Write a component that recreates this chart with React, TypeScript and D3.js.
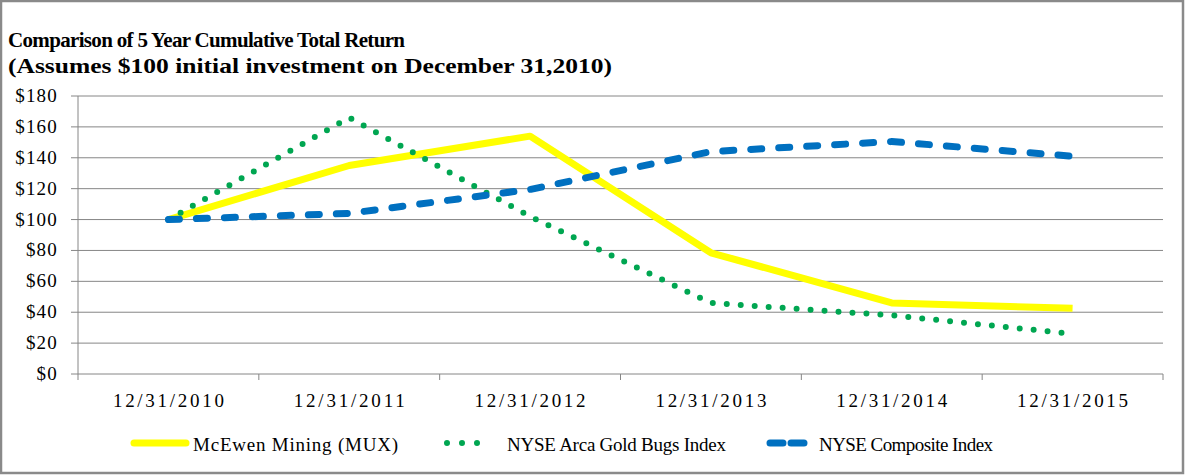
import React, { useEffect, useRef } from "react";
import * as d3 from "d3";

// categories and series
const years = ["12/31/2010", "12/31/2011", "12/31/2012", "12/31/2013", "12/31/2014", "12/31/2015"];
const mcewen = [100, 135, 154, 78.5, 46, 42.5];
const goldBugs = [100, 166, 102, 46, 38, 26];
const nyseComposite = [100, 104, 119.5, 144, 150.5, 141];
const yTicks = [0, 20, 40, 60, 80, 100, 120, 140, 160, 180];

const titleLines = [
  "Comparison of 5 Year Cumulative Total Return",
  "(Assumes $100 initial investment on December 31,2010)",
];

interface Series {
  name: string;
  values: number[];
  color: string;
  width: number;
  dash: string | null;
}

const series: Series[] = [
  { name: "McEwen Mining (MUX)", values: mcewen, color: "#FFFF00", width: 7, dash: null },
  { name: "NYSE Arca Gold Bugs Index", values: goldBugs, color: "#00A651", width: 6, dash: "0 14" },
  { name: "NYSE Composite Index", values: nyseComposite, color: "#0070C0", width: 7, dash: "11 17" },
];

const W = 1185;
const H = 476;
const FONT = "'Liberation Serif', 'Times New Roman', serif";

function App() {
  const svgRef = useRef<SVGSVGElement>(null);

  useEffect(() => {
    if (!svgRef.current) return;
    const svg = d3.select(svgRef.current);
    svg.selectAll("*").remove();

    const plot = { left: 78, right: 1163, top: 96, bottom: 374 };

    const x = d3.scaleBand<string>().domain(years).range([plot.left, plot.right]).padding(0);
    const y = d3.scaleLinear().domain([0, 180]).range([plot.bottom, plot.top]);
    const cx = (d: string) => (x(d) as number) + x.bandwidth() / 2;

    // background + frame
    svg.append("rect").attr("width", W).attr("height", H).attr("fill", "white");
    svg
      .append("rect")
      .attr("x", 1)
      .attr("y", 1)
      .attr("width", W - 3)
      .attr("height", H - 4)
      .attr("fill", "none")
      .attr("stroke", "#8a8a8a")
      .attr("stroke-width", 2.5);

    // title (second line is wider in the original font, so stretch glyphs there)
    const title = svg.append("g").attr("font-family", FONT).attr("font-weight", "bold").attr("font-size", 21);
    const titleLen = [397, 604];
    const titleAdjust = ["spacing", "spacingAndGlyphs"];
    titleLines.forEach((t, i) => {
      title
        .append("text")
        .attr("x", 8)
        .attr("y", 47 + i * 26)
        .attr("textLength", titleLen[i])
        .attr("lengthAdjust", titleAdjust[i])
        .text(t);
    });

    // gridlines
    svg
      .append("g")
      .selectAll("line")
      .data(yTicks.filter((d) => d > 0))
      .enter()
      .append("line")
      .attr("x1", plot.left)
      .attr("x2", plot.right)
      .attr("y1", (d) => y(d))
      .attr("y2", (d) => y(d))
      .attr("stroke", "#868686")
      .attr("stroke-width", 1);

    // y axis
    const yAxis = svg.append("g").attr("transform", `translate(${plot.left},0)`);
    yAxis
      .append("line")
      .attr("y1", plot.top)
      .attr("y2", plot.bottom)
      .attr("stroke", "#868686");
    yTicks.forEach((t) => {
      yAxis
        .append("line")
        .attr("x1", -7)
        .attr("x2", 0)
        .attr("y1", y(t))
        .attr("y2", y(t))
        .attr("stroke", "#868686");
      yAxis
        .append("text")
        .attr("x", -20)
        .attr("y", y(t) + 6)
        .attr("text-anchor", "end")
        .attr("font-family", FONT)
        .attr("font-size", 19)
        .attr("letter-spacing", 1.2)
        .text(`$${t}`);
    });

    // x axis
    const xAxis = svg.append("g");
    xAxis
      .append("line")
      .attr("x1", plot.left)
      .attr("x2", plot.right)
      .attr("y1", plot.bottom)
      .attr("y2", plot.bottom)
      .attr("stroke", "#868686");
    const bounds = years.map((d) => x(d) as number).concat([plot.right]);
    bounds.forEach((b) => {
      xAxis
        .append("line")
        .attr("x1", b)
        .attr("x2", b)
        .attr("y1", plot.bottom)
        .attr("y2", plot.bottom + 6)
        .attr("stroke", "#868686");
    });
    years.forEach((d) => {
      xAxis
        .append("text")
        .attr("x", cx(d))
        .attr("y", 407)
        .attr("text-anchor", "middle")
        .attr("font-family", FONT)
        .attr("font-size", 19)
        .attr("textLength", 111)
        .attr("lengthAdjust", "spacing")
        .text(d);
    });

    // lines
    series.forEach((s) => {
      const line = d3
        .line<number>()
        .x((_, i) => cx(years[i]))
        .y((v) => y(v))
        .curve(d3.curveLinear);
      svg
        .append("path")
        .datum(s.values)
        .attr("d", line)
        .attr("fill", "none")
        .attr("stroke", s.color)
        .attr("stroke-width", s.width)
        .attr("stroke-linecap", s.dash ? "round" : "butt")
        .attr("stroke-linejoin", "round")
        .attr("stroke-dasharray", s.dash ?? null);
    });

    // legend
    const legendItems = [
      { x1: 134, x2: 186, tx: 193, tl: 205 },
      { x1: 447, x2: 492, tx: 507, tl: 219 },
      { x1: 770, x2: 805, tx: 819, tl: 174 },
    ];
    const legend = svg.append("g");
    series.forEach((s, i) => {
      const li = legendItems[i];
      legend
        .append("line")
        .attr("x1", li.x1)
        .attr("x2", li.x2)
        .attr("y1", 443)
        .attr("y2", 443)
        .attr("stroke", s.color)
        .attr("stroke-width", s.width)
        .attr("stroke-linecap", "round")
        .attr("stroke-dasharray", s.dash === "0 14" ? "0 15" : s.dash === "11 17" ? "13 8" : null);
      legend
        .append("text")
        .attr("x", li.tx)
        .attr("y", 451)
        .attr("font-family", FONT)
        .attr("font-size", 19)
        .attr("textLength", li.tl)
        .attr("lengthAdjust", "spacing")
        .text(s.name);
    });
  }, []);

  return (
    <div style={{ position: "absolute", left: 0, top: 0 }}>
      <svg ref={svgRef} width={W} height={H} style={{ display: "block" }}></svg>
    </div>
  );
}

export default App;
